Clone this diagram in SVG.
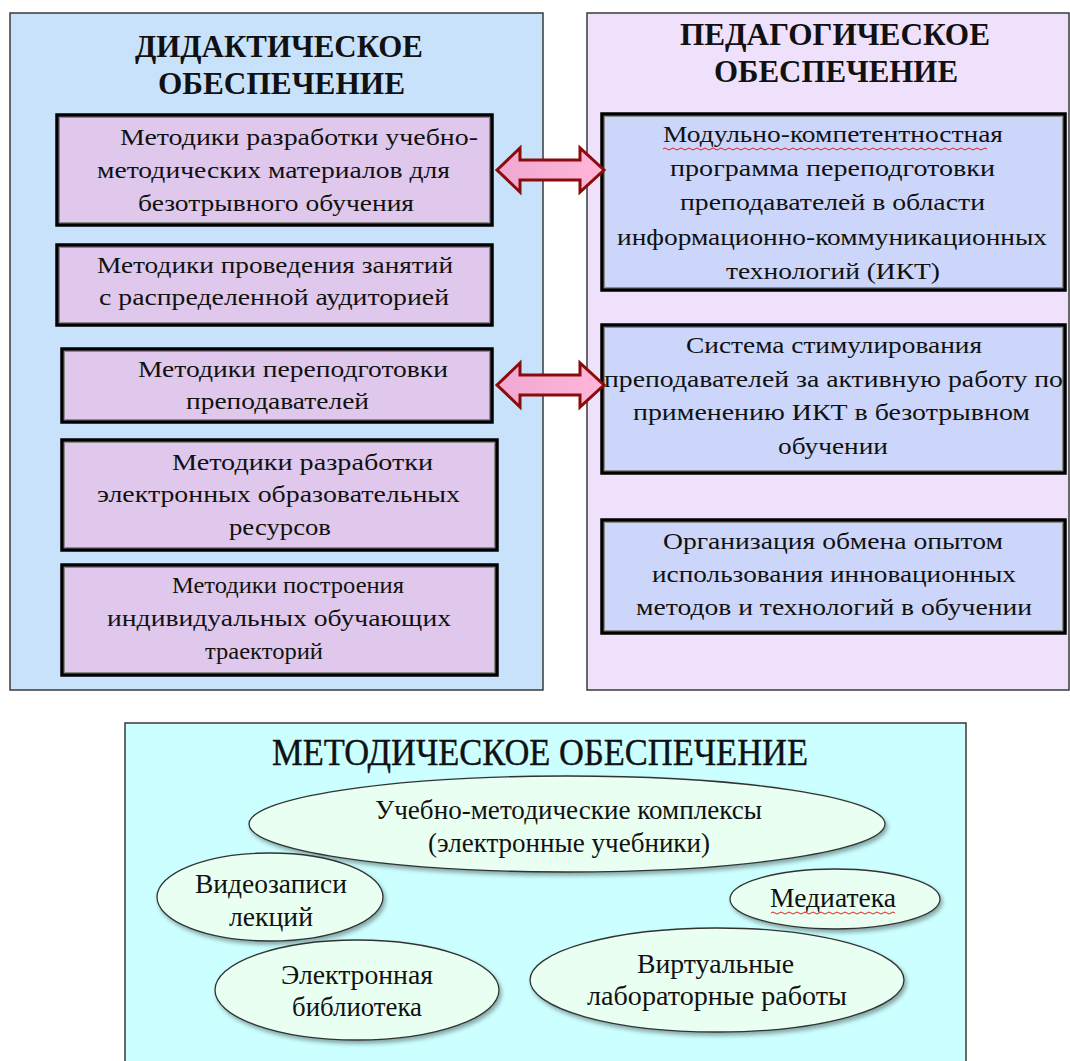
<svg xmlns="http://www.w3.org/2000/svg" width="1070" height="1061" viewBox="0 0 1070 1061">
<defs>
<style>
.panel{stroke:#3a3a3a;stroke-width:1.5}
.boxo{stroke:#000;stroke-width:3.5}
.boxi{fill:none;stroke:#8a8a8a;stroke-width:1}
.lb{fill:#dfc8ec}
.rb{fill:#ccd6fb}
.t{font-family:"Liberation Serif","Times New Roman",serif;font-size:24px;fill:#111}
.te{font-family:"Liberation Serif","Times New Roman",serif;font-size:27px;fill:#111}
.h{font-family:"Liberation Serif","Times New Roman",serif;font-size:31px;font-weight:bold;fill:#111}
.hc{font-family:"Liberation Serif","Times New Roman",serif;font-size:37px;fill:#111;stroke:#111;stroke-width:0.4}
.el{fill:#e8fff2;stroke:#333;stroke-width:1.3}
.arr{fill:url(#pg);stroke:#8b0a0a;stroke-width:3;stroke-linejoin:miter}
.wav{fill:none;stroke:#e02020;stroke-width:1}
</style>
<linearGradient id="pg" x1="0" y1="0" x2="1" y2="0">
<stop offset="0" stop-color="#efa8d2"/>
<stop offset="1" stop-color="#ffb6d8"/>
</linearGradient>
<filter id="sh" x="-10%" y="-10%" width="125%" height="130%">
<feDropShadow dx="2" dy="3" stdDeviation="2" flood-color="#000" flood-opacity="0.35"/>
</filter>
</defs>
<rect width="1070" height="1061" fill="#fff"/>

<g id="panel-didactic">
<rect class="panel" x="10" y="13" width="533" height="677" fill="#c9e2fb"/>
<text class="h" x="135" y="57" textLength="288" lengthAdjust="spacingAndGlyphs">ДИДАКТИЧЕСКОЕ</text>
<text class="h" x="158" y="94" textLength="247" lengthAdjust="spacingAndGlyphs">ОБЕСПЕЧЕНИЕ</text>
</g>
<g id="panel-pedagogic">
<rect class="panel" x="587" y="13" width="482" height="677" fill="#efe0fb"/>
<text class="h" x="680" y="45" textLength="310" lengthAdjust="spacingAndGlyphs">ПЕДАГОГИЧЕСКОЕ</text>
<text class="h" x="714" y="82" textLength="244" lengthAdjust="spacingAndGlyphs">ОБЕСПЕЧЕНИЕ</text>
</g>
<g id="panel-methodic">
<rect class="panel" x="125" y="723" width="841" height="345" fill="#ccffff"/>
<text class="hc" x="272" y="765" textLength="536" lengthAdjust="spacingAndGlyphs">МЕТОДИЧЕСКОЕ ОБЕСПЕЧЕНИЕ</text>
</g>

<g id="L1">
<rect class="boxo lb" x="57" y="115" width="435" height="110"/>
<rect class="boxi" x="59.5" y="117.5" width="430" height="105"/>
<text class="t" x="120" y="145" textLength="358" lengthAdjust="spacingAndGlyphs">Методики разработки учебно-</text>
<text class="t" x="97" y="178" textLength="353" lengthAdjust="spacingAndGlyphs">методических материалов для</text>
<text class="t" x="138" y="211" textLength="276" lengthAdjust="spacingAndGlyphs">безотрывного обучения</text>
</g>
<g id="L2">
<rect class="boxo lb" x="57" y="245" width="435" height="80"/>
<rect class="boxi" x="59.5" y="247.5" width="430" height="75"/>
<text class="t" x="97" y="273" textLength="356" lengthAdjust="spacingAndGlyphs">Методики проведения занятий</text>
<text class="t" x="99" y="305" textLength="350" lengthAdjust="spacingAndGlyphs">с распределенной аудиторией</text>
</g>
<g id="L3">
<rect class="boxo lb" x="62" y="349" width="430" height="73"/>
<rect class="boxi" x="64.5" y="351.5" width="425" height="68"/>
<text class="t" x="138" y="377" textLength="310" lengthAdjust="spacingAndGlyphs">Методики переподготовки</text>
<text class="t" x="186" y="409" textLength="183" lengthAdjust="spacingAndGlyphs">преподавателей</text>
</g>
<g id="L4">
<rect class="boxo lb" x="62" y="440" width="435" height="110"/>
<rect class="boxi" x="64.5" y="442.5" width="430" height="105"/>
<text class="t" x="172" y="470" textLength="261" lengthAdjust="spacingAndGlyphs">Методики разработки</text>
<text class="t" x="97" y="502" textLength="363" lengthAdjust="spacingAndGlyphs">электронных образовательных</text>
<text class="t" x="229" y="535" textLength="102" lengthAdjust="spacingAndGlyphs">ресурсов</text>
</g>
<g id="L5">
<rect class="boxo lb" x="62" y="565" width="435" height="110"/>
<rect class="boxi" x="64.5" y="567.5" width="430" height="105"/>
<text class="t" x="172" y="593" textLength="232" lengthAdjust="spacingAndGlyphs">Методики построения</text>
<text class="t" x="107" y="626" textLength="344" lengthAdjust="spacingAndGlyphs">индивидуальных обучающих</text>
<text class="t" x="205" y="659" textLength="118" lengthAdjust="spacingAndGlyphs">траекторий</text>
</g>

<g id="R1">
<rect class="boxo rb" x="602" y="114" width="463" height="176"/>
<rect class="boxi" x="604.5" y="116.5" width="458" height="171"/>
<text class="t" x="663" y="142" textLength="340" lengthAdjust="spacingAndGlyphs">Модульно-компетентностная</text>
<text class="t" x="670" y="176" textLength="325" lengthAdjust="spacingAndGlyphs">программа переподготовки</text>
<text class="t" x="680" y="210" textLength="305" lengthAdjust="spacingAndGlyphs">преподавателей в области</text>
<text class="t" x="617" y="245" textLength="430" lengthAdjust="spacingAndGlyphs">информационно-коммуникационных</text>
<text class="t" x="726" y="279" textLength="214" lengthAdjust="spacingAndGlyphs">технологий (ИКТ)</text>
<path class="wav" d="M663,149 q2,-2 4,0 t4,0 t4,0 t4,0 t4,0 t4,0 t4,0 t4,0 t4,0 t4,0 t4,0 t4,0 t4,0 t4,0 t4,0 t4,0 t4,0 t4,0 t4,0 t4,0 t4,0 t4,0 t4,0 t4,0 t4,0 t4,0 t4,0 t4,0 t4,0 t4,0 t4,0 t4,0 t4,0 t4,0 t4,0 t4,0 t4,0 t4,0 t4,0 t4,0 t4,0 t4,0 t4,0 t4,0 t4,0 t4,0 t4,0 t4,0 t4,0 t4,0 t4,0 t4,0 t4,0 t4,0 t4,0 t4,0 t4,0 t4,0 t4,0 t4,0 t4,0 t4,0 t4,0 t4,0 t4,0 t4,0 t4,0 t4,0 t4,0 t4,0 t4,0 t4,0 t4,0 t4,0 t4,0 t4,0 t4,0 t4,0 t4,0 t4,0 t4,0"/>
</g>
<g id="R2">
<rect class="boxo rb" x="602" y="325" width="463" height="148"/>
<rect class="boxi" x="604.5" y="327.5" width="458" height="143"/>
<text class="t" x="686" y="353" textLength="296" lengthAdjust="spacingAndGlyphs">Система стимулирования</text>
<text class="t" x="604" y="387" textLength="459" lengthAdjust="spacingAndGlyphs">преподавателей за активную работу по</text>
<text class="t" x="633" y="420" textLength="397" lengthAdjust="spacingAndGlyphs">применению ИКТ в безотрывном</text>
<text class="t" x="778" y="454" textLength="110" lengthAdjust="spacingAndGlyphs">обучении</text>
</g>
<g id="R3">
<rect class="boxo rb" x="602" y="520" width="463" height="113"/>
<rect class="boxi" x="604.5" y="522.5" width="458" height="108"/>
<text class="t" x="663" y="549" textLength="340" lengthAdjust="spacingAndGlyphs">Организация обмена опытом</text>
<text class="t" x="652" y="582" textLength="364" lengthAdjust="spacingAndGlyphs">использования инновационных</text>
<text class="t" x="636" y="615" textLength="396" lengthAdjust="spacingAndGlyphs">методов и технологий в обучении</text>
</g>

<g id="E1">
<ellipse class="el" filter="url(#sh)" cx="567" cy="824" rx="318" ry="48"/>
<text class="te" x="375" y="819" textLength="387" lengthAdjust="spacingAndGlyphs">Учебно-методические комплексы</text>
<text class="te" x="428" y="852" textLength="282" lengthAdjust="spacingAndGlyphs">(электронные учебники)</text>
</g>
<g id="E2">
<ellipse class="el" filter="url(#sh)" cx="270" cy="897" rx="113" ry="44"/>
<text class="te" x="195" y="893" textLength="152" lengthAdjust="spacingAndGlyphs">Видеозаписи</text>
<text class="te" x="229" y="926" textLength="84" lengthAdjust="spacingAndGlyphs">лекций</text>
</g>
<g id="E3">
<ellipse class="el" filter="url(#sh)" cx="835" cy="899" rx="105" ry="30"/>
<text class="te" x="770" y="907" textLength="126" lengthAdjust="spacingAndGlyphs">Медиатека</text>
<path class="wav" d="M771,913 q2,-2 4,0 t4,0 t4,0 t4,0 t4,0 t4,0 t4,0 t4,0 t4,0 t4,0 t4,0 t4,0 t4,0 t4,0 t4,0 t4,0 t4,0 t4,0 t4,0 t4,0 t4,0 t4,0 t4,0 t4,0 t4,0 t4,0 t4,0 t4,0 t4,0 t4,0 t4,0"/>
</g>
<g id="E4">
<ellipse class="el" filter="url(#sh)" cx="357" cy="990" rx="142" ry="50"/>
<text class="te" x="281" y="984" textLength="152" lengthAdjust="spacingAndGlyphs">Электронная</text>
<text class="te" x="292" y="1016" textLength="130" lengthAdjust="spacingAndGlyphs">библиотека</text>
</g>
<g id="E5">
<ellipse class="el" filter="url(#sh)" cx="717" cy="980" rx="187" ry="52"/>
<text class="te" x="637" y="973" textLength="157" lengthAdjust="spacingAndGlyphs">Виртуальные</text>
<text class="te" x="587" y="1005" textLength="260" lengthAdjust="spacingAndGlyphs">лабораторные работы</text>
</g>

<g id="connectors">
<path class="arr" d="M497,170 L520,148 L520,160 L580,160 L580,148 L604,170 L580,192 L580,180 L520,180 L520,192 Z"/>
<path class="arr" d="M497,385 L520,363 L520,375 L580,375 L580,363 L604,385 L580,407 L580,395 L520,395 L520,407 Z"/>
</g>
</svg>
